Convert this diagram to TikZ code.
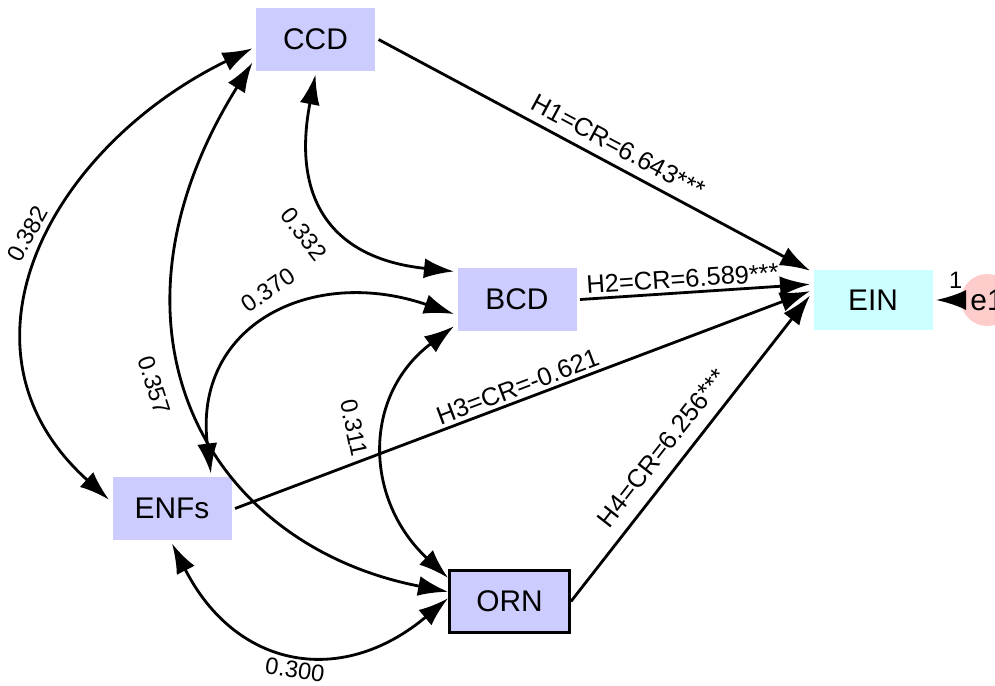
\documentclass[tikz,border=0pt]{standalone}
\usepackage{fontspec}
\setmainfont{Liberation Sans}
\usetikzlibrary{arrows.meta}
\definecolor{obsfill}{HTML}{CCCCFF}
\definecolor{endfill}{HTML}{CCFFFF}
\definecolor{errfill}{HTML}{FFCCCC}
\tikzset{
  var/.style={fill=obsfill, minimum width=2.38cm, minimum height=1.26cm, inner sep=0pt, outer sep=2pt, font=\fontsize{17}{20}\selectfont},
  regr/.style={line width=1.6pt, -{Latex[length=6mm,width=4mm]}},
  covar/.style={line width=1.6pt, {Latex[length=6mm,width=4mm]}-{Latex[length=6mm,width=4mm]}},
  lab/.style={font=\fontsize{14.5}{17}\selectfont, inner sep=2pt},
  num/.style={font=\fontsize{13.5}{16}\selectfont, inner sep=1pt},
}
\begin{document}
\begin{tikzpicture}
                \useasboundingbox (0,0) rectangle (19.9,13.7);
                \node[var] (CCD) at (6.31,12.91) {CCD};
                \node[var] (BCD) at (10.34,7.71) {BCD};
                \node[var] (ENFs) at (3.44,3.53) {ENFs};
                \node[var, draw, line width=1.6pt, minimum width=2.4cm, minimum height=1.25cm, outer sep=0.8pt] (ORN) at (10.19,1.67) {ORN};
                \node[var, fill=endfill, minimum height=1.2cm] (EIN) at (17.46,7.70) {EIN};
                \node[circle, fill=errfill, minimum size=1.04cm, inner sep=0pt, font=\fontsize{17}{20}\selectfont] (e1) at (19.74,7.70) {e1};
                % regression paths
                \draw[regr] (CCD.east) -- node[lab, sloped, above=3pt, pos=0.535] (h1) {H1=CR=6.643***} (EIN.155);
                \draw[regr] (BCD.east) -- node[lab, sloped, above, pos=0.45] (h2) {H2=CR=6.589***} (EIN.166);
                \draw[regr] (ENFs.east) -- node[lab, sloped, above, pos=0.5] (h3) {H3=CR=-0.621} (EIN.172);
                \draw[regr] (ORN.east) -- node[lab, sloped, above=5pt, pos=0.456] (h4) {H4=CR=6.256***} (EIN.176);
                \draw[regr] (e1.west) -- node[num, above=5pt, pos=0.2] (w1) {1} (EIN.east);
                % covariances
                \draw[covar] (CCD.188) .. controls +(206:4.5) and +(138:4.5) .. (ENFs.172);
                \draw[covar] (CCD.200) .. controls +(238:6.2) and +(169:5) .. (ORN.171);
                \draw[covar] (CCD.south) .. controls +(259:2.5) and +(174:2.5) .. (BCD.156);
                \draw[covar] (BCD.193) .. controls +(161:3) and +(97:3) .. (ENFs.42);
                \draw[covar] (BCD.203) .. controls +(217:2.3) and +(137:2.3) .. (ORN.159);
                \draw[covar] (ENFs.south) .. controls +(297:2.8) and +(220:2.8) .. (ORN.177);
                \node[num, rotate=61] (c1) at (0.55,9.02) {0.382};
                \node[num, rotate=-72] (c2) at (3.08,6.0) {0.357};
                \node[num, rotate=-52] (c3) at (6.08,9.02) {0.332};
                \node[num, rotate=35] (c4) at (5.36,7.9) {0.370};
                \node[num, rotate=-78] (c5) at (7.08,5.14) {0.311};
                \node[num, rotate=-8] (c6) at (5.9,0.3) {0.300};
\end{tikzpicture}
\end{document}
